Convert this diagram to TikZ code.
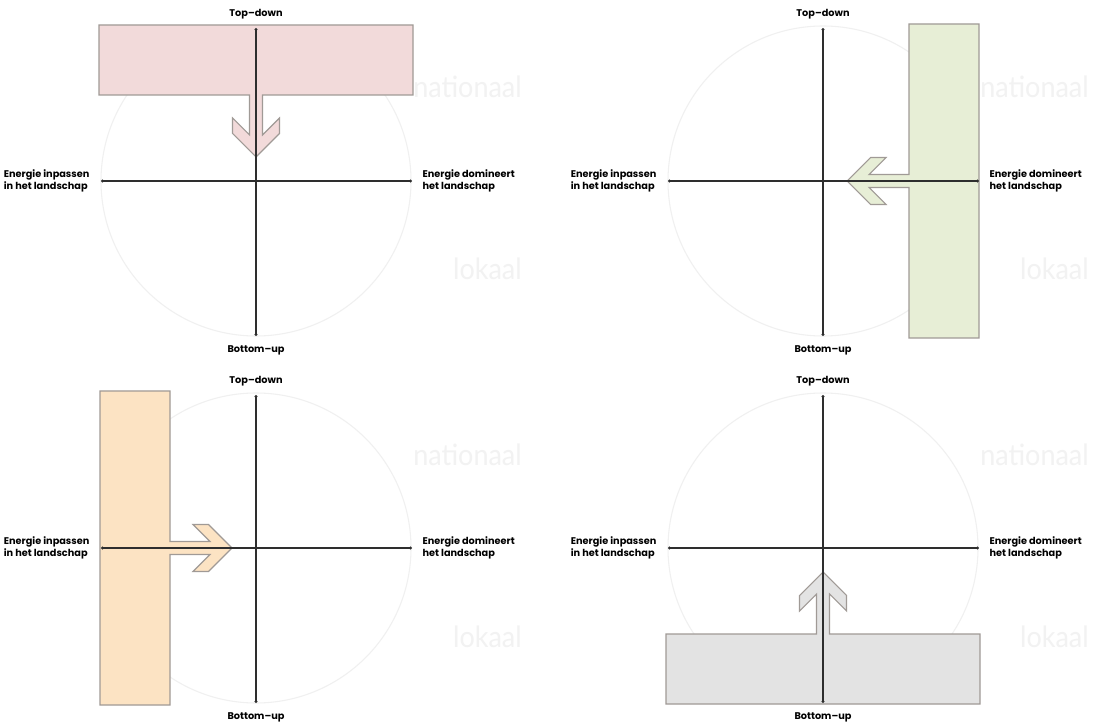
\documentclass[tikz,border=0pt]{standalone}
\usepackage{fontspec}
\setmainfont{Poppins}
\newfontfamily\markfont{Lato}
\usetikzlibrary{arrows.meta}

\definecolor{roze}{HTML}{F2DADA}
\definecolor{groen}{HTML}{E7EED6}
\definecolor{oranje}{HTML}{FCE3C3}
\definecolor{grijs}{HTML}{E3E3E3}
\definecolor{rand}{HTML}{A09A96}
\definecolor{asgrijs}{HTML}{2E2E2E}

\newcommand*{\rad}{155}
\newcommand*{\kwadrant}[3]{%
	% watermarks
	\node[watermark] (#1nat) at (266,83) {nationaal};
	\node[watermark] (#1lok) at (266,-99) {lokaal};

	\draw[ring] (0,0) circle (\rad);

	% band with arrow towards the centre
	\filldraw[band,fill=#3,rotate=#2] (-157,156) -- (157,156) -- (157,86) -- (6.5,86)
		-- (6.5,46) -- (23.5,63) -- (23.5,47.5) -- (0,24) -- (-23.5,47.5)
		-- (-23.5,63) -- (-6.5,46) -- (-6.5,86) -- (-157,86) -- cycle;

	% axes
	\coordinate (#1t) at (0,153);
	\coordinate (#1b) at (0,-155);
	\coordinate (#1l) at (-155,0);
	\coordinate (#1r) at (156,0);
	\draw[axis] (#1l) -- (#1r);
	\draw[axis] (#1b) -- (#1t);

	\node[lbl] (#1top) at (0,167) {Top--down};
	\node[lbl] (#1bot) at (0,-169) {Bottom--up};
	\node[lbl,anchor=east] (#1left) at (-165,0) {Energie inpassen\\in het landschap};
	\node[lbl,anchor=west] (#1right) at (165,0) {Energie domineert\\het landschap};
}

\begin{document}
\begin{tikzpicture}
[
	x=0.75pt,y=0.75pt,
	axis/.style={asgrijs,line width=0.8pt,{Circle[length=2.2pt]}-{Circle[length=2.2pt]}},
	ring/.style={draw=black!6,line width=0.8pt},
	band/.style={draw=rand,line width=0.8pt},
	lbl/.style={font=\fontsize{7.3}{9}\selectfont\bfseries,align=left,inner sep=1pt},
	watermark/.style={anchor=base east,text=black!5,font=\markfont\fontsize{22}{24}\selectfont,inner sep=0pt,xscale=0.92,transform shape}
]

	\fill[white] (0,0) rectangle (1096,722);
	\useasboundingbox (0,0) rectangle (1096,722);

	\begin{scope}[shift={(256,541)}]
		\kwadrant{tl}{0}{roze}
	\end{scope}

	\begin{scope}[shift={(823,541)}]
		\kwadrant{tr}{-90}{groen}
	\end{scope}

	\begin{scope}[shift={(256,174)}]
		\kwadrant{bl}{90}{oranje}
	\end{scope}

	\begin{scope}[shift={(823,174)}]
		\kwadrant{br}{180}{grijs}
	\end{scope}

\end{tikzpicture}
\end{document}
